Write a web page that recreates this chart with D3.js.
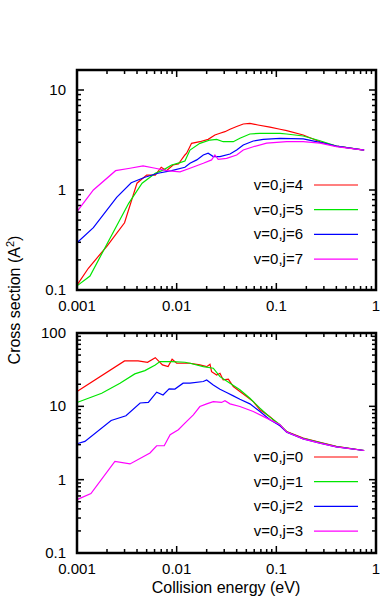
<!DOCTYPE html>
<html>
<head>
<meta charset="utf-8">
<script src="https://cdn.jsdelivr.net/npm/d3@7"></script>
<style>
  body { margin: 0; background: #fff; }
  svg text { font-family: "Liberation Sans", Arial, sans-serif; font-size: 15px; fill: #000; }
</style>
</head>
<body>
<svg id="chart" width="382" height="604"></svg>
<script>
// energies (eV) and cross sections (A^2)
var topJ4 = [[0.001,0.112],[0.0013,0.165],[0.002,0.275],[0.003,0.47],[0.004,1.17],[0.005,1.41],[0.0061,1.41],[0.007,1.69],[0.0079,1.56],[0.0092,1.78],[0.0104,1.82],[0.0121,2.24],[0.0126,2.33],[0.0141,2.93],[0.0171,3.04],[0.0207,3.21],[0.0242,3.55],[0.0272,3.69],[0.0305,3.83],[0.0343,4.05],[0.04,4.31],[0.0466,4.57],[0.0543,4.64],[0.0654,4.47],[0.0863,4.25],[0.109,4.05],[0.127,3.92],[0.186,3.55],[0.274,3.04],[0.4,2.75],[0.76,2.51]];
var topJ5 = [[0.001,0.11],[0.00135,0.138],[0.0021,0.316],[0.0033,0.736],[0.0045,1.17],[0.0061,1.47],[0.0073,1.58],[0.0089,1.78],[0.0108,1.88],[0.0121,1.95],[0.0136,2.51],[0.0171,2.93],[0.0216,3.16],[0.0252,3.21],[0.0293,3.04],[0.037,3.04],[0.0431,3.29],[0.0543,3.63],[0.0685,3.69],[0.109,3.69],[0.127,3.63],[0.186,3.47],[0.274,3.11],[0.4,2.75],[0.76,2.51]];
var topJ6 = [[0.001,0.297],[0.00146,0.42],[0.0025,0.845],[0.0035,1.18],[0.0048,1.34],[0.0065,1.47],[0.0089,1.56],[0.0121,1.69],[0.0136,1.85],[0.0159,2.0],[0.0185,2.24],[0.0207,2.33],[0.0233,2.16],[0.0272,2.16],[0.0343,2.29],[0.04,2.51],[0.0466,2.82],[0.0587,3.09],[0.0739,3.21],[0.109,3.29],[0.186,3.24],[0.274,3.0],[0.4,2.75],[0.76,2.51]];
var topJ7 = [[0.001,0.607],[0.00146,1.0],[0.00244,1.56],[0.0034,1.65],[0.0046,1.74],[0.0061,1.65],[0.0079,1.56],[0.0108,1.52],[0.0136,1.65],[0.0185,1.85],[0.0224,2.0],[0.0242,2.24],[0.0261,2.03],[0.0317,2.07],[0.04,2.24],[0.0466,2.51],[0.0587,2.71],[0.08,2.94],[0.127,3.04],[0.186,3.04],[0.274,2.94],[0.4,2.71],[0.76,2.51]];

var botJ0 = [[0.001,15.9],[0.003,41.6],[0.0041,41.6],[0.0051,39.9],[0.0061,46.1],[0.0072,36.7],[0.0082,34.8],[0.009,43.9],[0.01,38.7],[0.0121,38.7],[0.0136,38.7],[0.0171,36.7],[0.02,34.8],[0.0216,37.5],[0.0224,29.7],[0.0252,26.8],[0.0272,28.3],[0.0293,22.9],[0.033,23.4],[0.037,18.6],[0.0431,15.9],[0.0504,13.6],[0.0587,11.6],[0.0685,8.96],[0.0863,7.2],[0.109,5.43],[0.127,4.54],[0.186,3.69],[0.274,3.22],[0.4,2.84],[0.76,2.5]];
var botJ1 = [[0.001,11.3],[0.00177,15.1],[0.0027,20.7],[0.0038,27.7],[0.0048,30.7],[0.0061,36.7],[0.0068,40.7],[0.0089,40.7],[0.0121,39.9],[0.0136,38.7],[0.0185,34.8],[0.0233,33.1],[0.0272,25.4],[0.0343,20.7],[0.0431,16.8],[0.0543,12.9],[0.0685,9.45],[0.0863,7.13],[0.109,5.6],[0.127,4.5],[0.186,3.65],[0.274,3.2],[0.4,2.83],[0.76,2.5]];
var botJ2 = [[0.001,3.09],[0.0012,3.32],[0.0022,6.41],[0.0031,7.43],[0.0043,11.1],[0.0052,11.3],[0.0063,15.6],[0.0073,14.3],[0.0084,17.3],[0.0096,17.2],[0.0116,20.7],[0.0136,20.7],[0.0185,21.8],[0.02,22.9],[0.0233,19.6],[0.0272,17.1],[0.0317,15.4],[0.037,13.9],[0.0431,12.5],[0.0543,10.8],[0.0685,8.5],[0.0863,6.55],[0.109,5.43],[0.127,4.45],[0.186,3.6],[0.274,3.15],[0.4,2.8],[0.76,2.5]];
var botJ3 = [[0.001,0.535],[0.00138,0.645],[0.0024,1.77],[0.0034,1.64],[0.0054,2.31],[0.0063,2.9],[0.0075,2.9],[0.0086,4.1],[0.0104,4.79],[0.0121,5.91],[0.0147,7.66],[0.0171,9.94],[0.02,10.8],[0.0233,11.6],[0.0282,11.3],[0.0305,11.9],[0.0343,10.8],[0.0431,9.94],[0.0587,8.5],[0.08,6.91],[0.109,5.6],[0.127,4.45],[0.186,3.6],[0.274,3.15],[0.4,2.8],[0.76,2.5]];

var topLabels = ["v=0,j=4", "v=0,j=5", "v=0,j=6", "v=0,j=7"];
var botLabels = ["v=0,j=0", "v=0,j=1", "v=0,j=2", "v=0,j=3"];
var colors = ["#ff0000", "#00e600", "#0000ff", "#ff00ff"];
var xTicks = [0.001, 0.01, 0.1, 1];
var yTicksTop = [0.1, 1, 10];
var yTicksBot = [0.1, 1, 10, 100];

var svg = d3.select("#chart");
var left = 77, right = 376;

var x = d3.scaleLog().domain([0.001, 1]).range([left, right]);

function minorTicks(lo, hi) {
    var out = [];
    for (var p = Math.floor(Math.log10(lo)); p < Math.ceil(Math.log10(hi)); p++) {
        for (var k = 2; k <= 9; k++) {
            var v = k * Math.pow(10, p);
            if (v > lo && v < hi) out.push(v);
        }
    }
    return out;
}

function panel(series, labels, yDomain, yRange, yTicks, legendTop) {
    var y = d3.scaleLog().domain(yDomain).range(yRange);
    var top = yRange[1], bottom = yRange[0];
    var g = svg.append("g");

    // ticks on all four sides, pointing in
    var ticks = g.append("g").attr("stroke", "#000").attr("stroke-width", 1.5);
    xTicks.forEach(function(t) {
        ticks.append("line").attr("x1", x(t)).attr("x2", x(t)).attr("y1", bottom).attr("y2", bottom - 7);
        ticks.append("line").attr("x1", x(t)).attr("x2", x(t)).attr("y1", top).attr("y2", top + 7);
    });
    minorTicks(0.001, 1).forEach(function(t) {
        ticks.append("line").attr("x1", x(t)).attr("x2", x(t)).attr("y1", bottom).attr("y2", bottom - 4);
        ticks.append("line").attr("x1", x(t)).attr("x2", x(t)).attr("y1", top).attr("y2", top + 4);
    });
    yTicks.forEach(function(t) {
        ticks.append("line").attr("x1", left).attr("x2", left + 7).attr("y1", y(t)).attr("y2", y(t));
        ticks.append("line").attr("x1", right).attr("x2", right - 7).attr("y1", y(t)).attr("y2", y(t));
    });
    minorTicks(yDomain[0], yDomain[1]).forEach(function(t) {
        ticks.append("line").attr("x1", left).attr("x2", left + 4).attr("y1", y(t)).attr("y2", y(t));
        ticks.append("line").attr("x1", right).attr("x2", right - 4).attr("y1", y(t)).attr("y2", y(t));
    });

    g.selectAll(".ylab").data(yTicks).enter().append("text")
        .attr("x", left - 11).attr("y", function(d) { return y(d) + 5; })
        .attr("text-anchor", "end").text(function(d) { return d; });
    g.selectAll(".xlab").data(xTicks).enter().append("text")
        .attr("x", function(d) { return x(d); }).attr("y", bottom + 21)
        .attr("text-anchor", "middle").text(function(d) { return d; });

    var line = d3.line().x(function(d) { return x(d[0]); }).y(function(d) { return y(d[1]); });
    series.forEach(function(s, i) {
        g.append("path").datum(s).attr("d", line)
            .attr("fill", "none").attr("stroke", colors[i]).attr("stroke-width", 1.2);
    });

    labels.forEach(function(l, i) {
        var ly = legendTop + i * 24.7;
        g.append("text").attr("x", 303).attr("y", ly + 5).attr("text-anchor", "end").text(l);
        g.append("line").attr("x1", 314).attr("x2", 358).attr("y1", ly).attr("y2", ly)
            .attr("stroke", colors[i]).attr("stroke-width", 1.2);
    });

    g.append("rect").attr("x", left).attr("y", top).attr("width", right - left).attr("height", bottom - top)
        .attr("fill", "none").attr("stroke", "#000").attr("stroke-width", 2.5);
}

panel([topJ4, topJ5, topJ6, topJ7], topLabels, [0.1, Math.pow(10, 1.2)], [290, 70], yTicksTop, 185);
panel([botJ0, botJ1, botJ2, botJ3], botLabels, [0.1, 100], [553, 333], yTicksBot, 457);

svg.append("text").attr("transform", "translate(20,300) rotate(-90)")
    .attr("text-anchor", "middle").style("font-size", "16px")
    .html('Cross section (A<tspan dy="-6" font-size="11">2</tspan><tspan dy="6">)</tspan>');
svg.append("text").attr("x", 226).attr("y", 593).attr("text-anchor", "middle")
    .style("font-size", "16px").text("Collision energy (eV)");
</script>
</body>
</html>
